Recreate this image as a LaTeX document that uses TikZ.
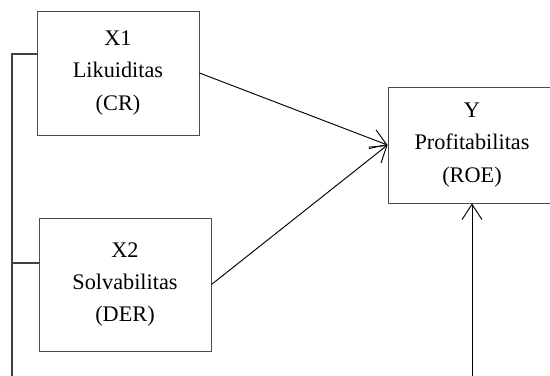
\documentclass[tikz,border=0pt]{standalone}
\usepackage{fontspec}
\setmainfont{Liberation Serif}
\usetikzlibrary{arrows.meta}

\tikzset{
  varbox/.style={draw=black!70, line width=0.8pt, align=center, inner sep=0pt,
    font=\fontsize{19}{27.5}\selectfont},
  link/.style={line width=0.8pt, -{Straight Barb[length=13pt,width=17pt]}},
  rail/.style={draw=black!75, line width=0.9pt}
}

\begin{document}
\begin{tikzpicture}[x=0.03cm,y=-0.03cm]
  \useasboundingbox (0,0) rectangle (550,376);

  % Drawing box x1 and x2
  \node [varbox, minimum width=4.86cm, minimum height=3.72cm] (x1) at (118,73) {X1\\Likuiditas\\(CR)};
  \node [varbox, minimum width=5.16cm, minimum height=3.99cm] (x2) at (125,284.5) {X2\\Solvabilitas\\(DER)};

  % Drawing box y
  \node [varbox, minimum width=5.04cm, minimum height=3.48cm] (y) at (472,145) {Y\\Profitabilitas\\(ROE)};

  % Marking rail points
  \coordinate (r1) at (12,54);
  \coordinate (r2) at (12,263);
  \coordinate (rend) at (12,376);
  \coordinate (yend) at (472,376);

  % Drawing rail on the left
  \draw [rail] (x1.west |- r1) -- (r1) -- (rend);
  \draw [rail] (x2.west |- r2) -- (r2);

  % Drawing arrows into y
  \draw [link] (x1.east) -- (y.west);
  \draw [link] (x2.east) -- (y.west);
  \draw [link] (yend) -- (y.south);
\end{tikzpicture}
\end{document}
